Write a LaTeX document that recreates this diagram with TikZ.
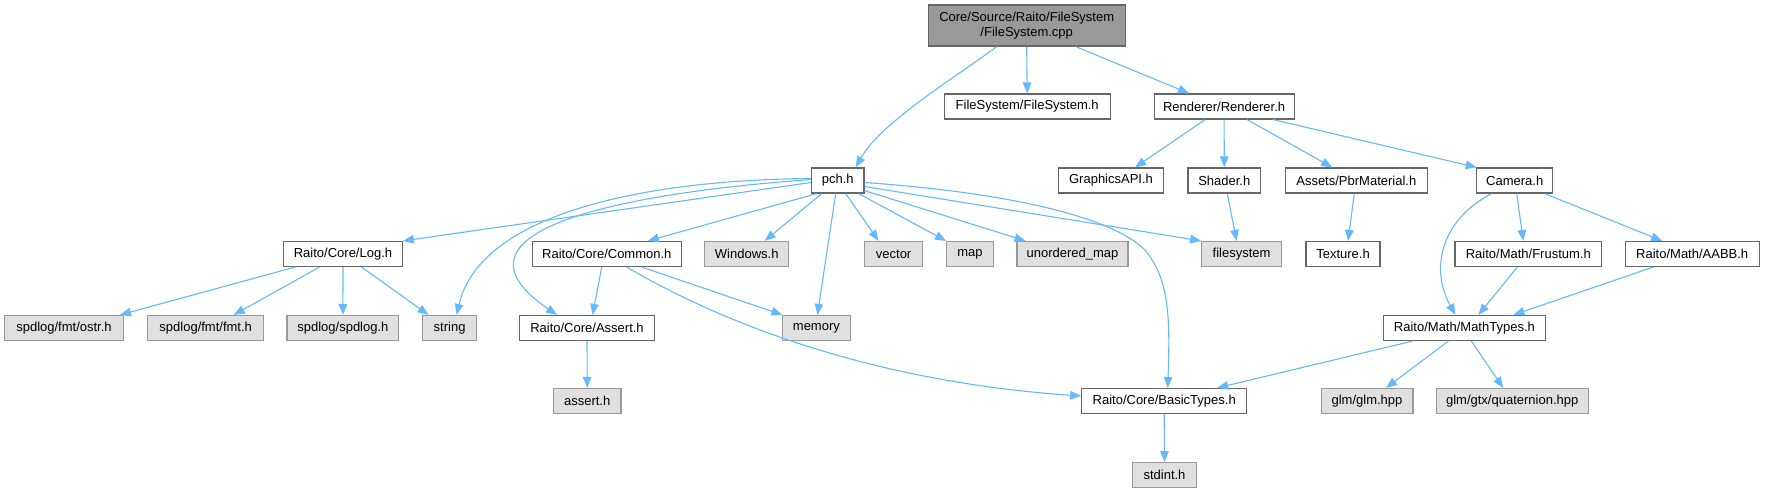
\documentclass[tikz,border=0pt]{standalone}
\usepackage{fontspec}
\setmainfont{Liberation Sans}
\usetikzlibrary{arrows.meta}
\definecolor{edgec}{HTML}{63B8FF}
\definecolor{rootfill}{HTML}{999999}
\definecolor{extfill}{HTML}{E0E0E0}
\begin{document}
\begin{tikzpicture}[x=1pt,y=-1pt,
  nd/.style={draw=black!60, fill=white, line width=1.2pt, minimum height=25pt, inner sep=0pt,
    font=\fontsize{13}{14.5}\selectfont},
  ext/.style={nd, draw=black!40, fill=extfill},
  rootnd/.style={nd, fill=rootfill, draw=black!60, minimum height=41pt, align=center},
  e/.style={draw=edgec, line width=1.1pt, -{Triangle[length=11pt,width=8.5pt]}}]
\useasboundingbox (0,0) rectangle (1765,493);
% row 1
\node[rootnd, minimum width=197pt] (root) at (1026.7,25.5) {Core/Source/Raito/FileSystem\\/FileSystem.cpp};
% row 2
\node[nd, minimum width=166pt] (fsh) at (1027.2,106.5) {FileSystem/FileSystem.h};
\node[nd, minimum width=140pt] (ren) at (1224.1,106.5) {Renderer/Renderer.h};
% row 3
\node[nd, minimum width=52.5pt] (pch) at (837.7,180.5) {pch.h};
\node[nd, minimum width=105pt] (gapi) at (1111,180.5) {GraphicsAPI.h};
\node[nd, minimum width=72.5pt] (shader) at (1224.3,180.5) {Shader.h};
\node[nd, minimum width=142pt] (pbr) at (1356.3,180.5) {Assets/PbrMaterial.h};
\node[nd, minimum width=76pt] (cam) at (1514.7,180.5) {Camera.h};
% row 4
\node[nd, minimum width=118.6pt] (log) at (343,254) {Raito/Core/Log.h};
\node[nd, minimum width=149pt] (common) at (606.8,254) {Raito/Core/Common.h};
\node[ext, minimum width=84pt] (windows) at (746.7,254) {Windows.h};
\node[ext, minimum width=58pt] (vector) at (893.6,254) {vector};
\node[ext, minimum width=46.7pt] (map) at (970,254) {map};
\node[ext, minimum width=111pt] (umap) at (1072.5,254) {unordered\_map};
\node[ext, minimum width=79.6pt] (fsys) at (1241.6,254) {filesystem};
\node[nd, minimum width=74pt] (texture) at (1343,254) {Texture.h};
\node[nd, minimum width=146.7pt] (frustum) at (1528.3,254) {Raito/Math/Frustum.h};
\node[nd, minimum width=134pt] (aabb) at (1692.2,254) {Raito/Math/AABB.h};
% row 5
\node[ext, minimum width=119pt] (ostr) at (64,328) {spdlog/fmt/ostr.h};
\node[ext, minimum width=116pt] (fmt) at (205.7,328) {spdlog/fmt/fmt.h};
\node[ext, minimum width=111.7pt] (spdlog) at (342.9,328) {spdlog/spdlog.h};
\node[ext, minimum width=53.6pt] (string) at (449.6,328) {string};
\node[nd, minimum width=134.3pt] (assertH) at (587,328) {Raito/Core/Assert.h};
\node[ext, minimum width=67.8pt] (memory) at (816.4,328) {memory};
\node[nd, minimum width=162pt] (math) at (1464.4,328) {Raito/Math/MathTypes.h};
% row 6
\node[ext, minimum width=67.7pt] (assert) at (587.2,401) {assert.h};
\node[nd, minimum width=164.7pt] (basic) at (1164.2,401) {Raito/Core/BasicTypes.h};
\node[ext, minimum width=91.8pt] (glm) at (1367,401) {glm/glm.hpp};
\node[ext, minimum width=152pt] (quat) at (1512.2,401) {glm/gtx/quaternion.hpp};
% row 7
\node[ext, minimum width=64.3pt] (stdint) at (1164.5,475) {stdint.h};

% edges from root
\draw[e] ([xshift=-30pt]root.south) .. controls +(-40,30) and +(25,-45) .. ([xshift=18pt]pch.north);
\draw[e] (root.south) -- (fsh.north);
\draw[e] ([xshift=49pt]root.south) -- ([xshift=-35pt]ren.north);
% renderer
\draw[e] ([xshift=-19pt]ren.south) -- ([xshift=24pt]gapi.north);
\draw[e] (ren.south) -- (shader.north);
\draw[e] ([xshift=23pt]ren.south) -- ([xshift=-24pt]pbr.north);
\draw[e] ([xshift=49pt]ren.south) -- ([xshift=-38pt]cam.north);
% pch
\draw[e] ([yshift=-2pt]pch.west) -- (log.north east);
\draw[e] ([yshift=2pt]pch.west) .. controls +(-171.5,1.5) and +(23.4,-100) .. ([xshift=7pt]string.north);
\draw[e] ([yshift=1pt]pch.west) .. controls +(-211.5,15.5) and +(-117,-80) .. ([xshift=-30pt]assertH.north);
\draw[e] ([xshift=-21pt]pch.south) -- ([xshift=41pt]common.north);
\draw[e] ([xshift=-16pt]pch.south) -- ([xshift=18pt]windows.north);
\draw[e] ([xshift=-2pt]pch.south) -- ([xshift=1pt]memory.north);
\draw[e] ([xshift=8pt]pch.south) -- ([xshift=-15pt]vector.north);
\draw[e] ([xshift=21pt]pch.south) -- ([xshift=-24pt]map.north);
\draw[e] ([yshift=3pt]pch.south east) -- ([xshift=-47pt]umap.north);
\draw[e] ([yshift=-6pt]pch.east) -- (fsys.north west);
\draw[e] ([yshift=-2pt]pch.east) .. controls (1000,192) and (1110,215) .. (1145,250)
   .. controls (1170,280) and (1170,320) .. ([xshift=3.5pt]basic.north);
% log
\draw[e] ([xshift=-48pt]log.south) -- ([xshift=56pt]ostr.north);
\draw[e] ([xshift=-23.5pt]log.south) -- ([xshift=28pt]fmt.north);
\draw[e] (log.south) -- (spdlog.north);
\draw[e] ([xshift=18.6pt]log.south) -- ([xshift=-21pt]string.north);
% common
\draw[e] ([xshift=-5pt]common.south) -- ([xshift=5.5pt]assertH.north);
\draw[e] ([xshift=35pt]common.south) -- ([xshift=-34pt]memory.north);
\draw[e] ([xshift=20pt]common.south) .. controls +(73,43) and +(-232,-16) .. ([yshift=5pt]basic.west);
% others
\draw[e] (assertH.south) -- (assert.north);
\draw[e] (basic.south) -- (stdint.north);
\draw[e] ([xshift=3pt]shader.south) -- ([xshift=-5pt]fsys.north);
\draw[e] ([xshift=-2pt]pbr.south) -- ([xshift=5pt]texture.north);
% camera
\draw[e] ([xshift=-23pt]cam.south) .. controls +(-52,27) and +(-25,-45) .. ([xshift=-9pt]math.north);
\draw[e] ([xshift=2pt]cam.south) -- ([xshift=-5pt]frustum.north);
\draw[e] ([xshift=30pt]cam.south) -- ([xshift=-30pt]aabb.north);
\draw[e] ([xshift=-11pt]frustum.south) -- ([xshift=14pt]math.north);
\draw[e] ([xshift=-39pt]aabb.south) -- ([xshift=49pt]math.north);
% math
\draw[e] ([xshift=-52pt]math.south) -- ([xshift=53pt]basic.north);
\draw[e] ([xshift=-16pt]math.south) -- ([xshift=19pt]glm.north);
\draw[e] ([xshift=7pt]math.south) -- ([xshift=-9pt]quat.north);
\end{tikzpicture}
\end{document}
